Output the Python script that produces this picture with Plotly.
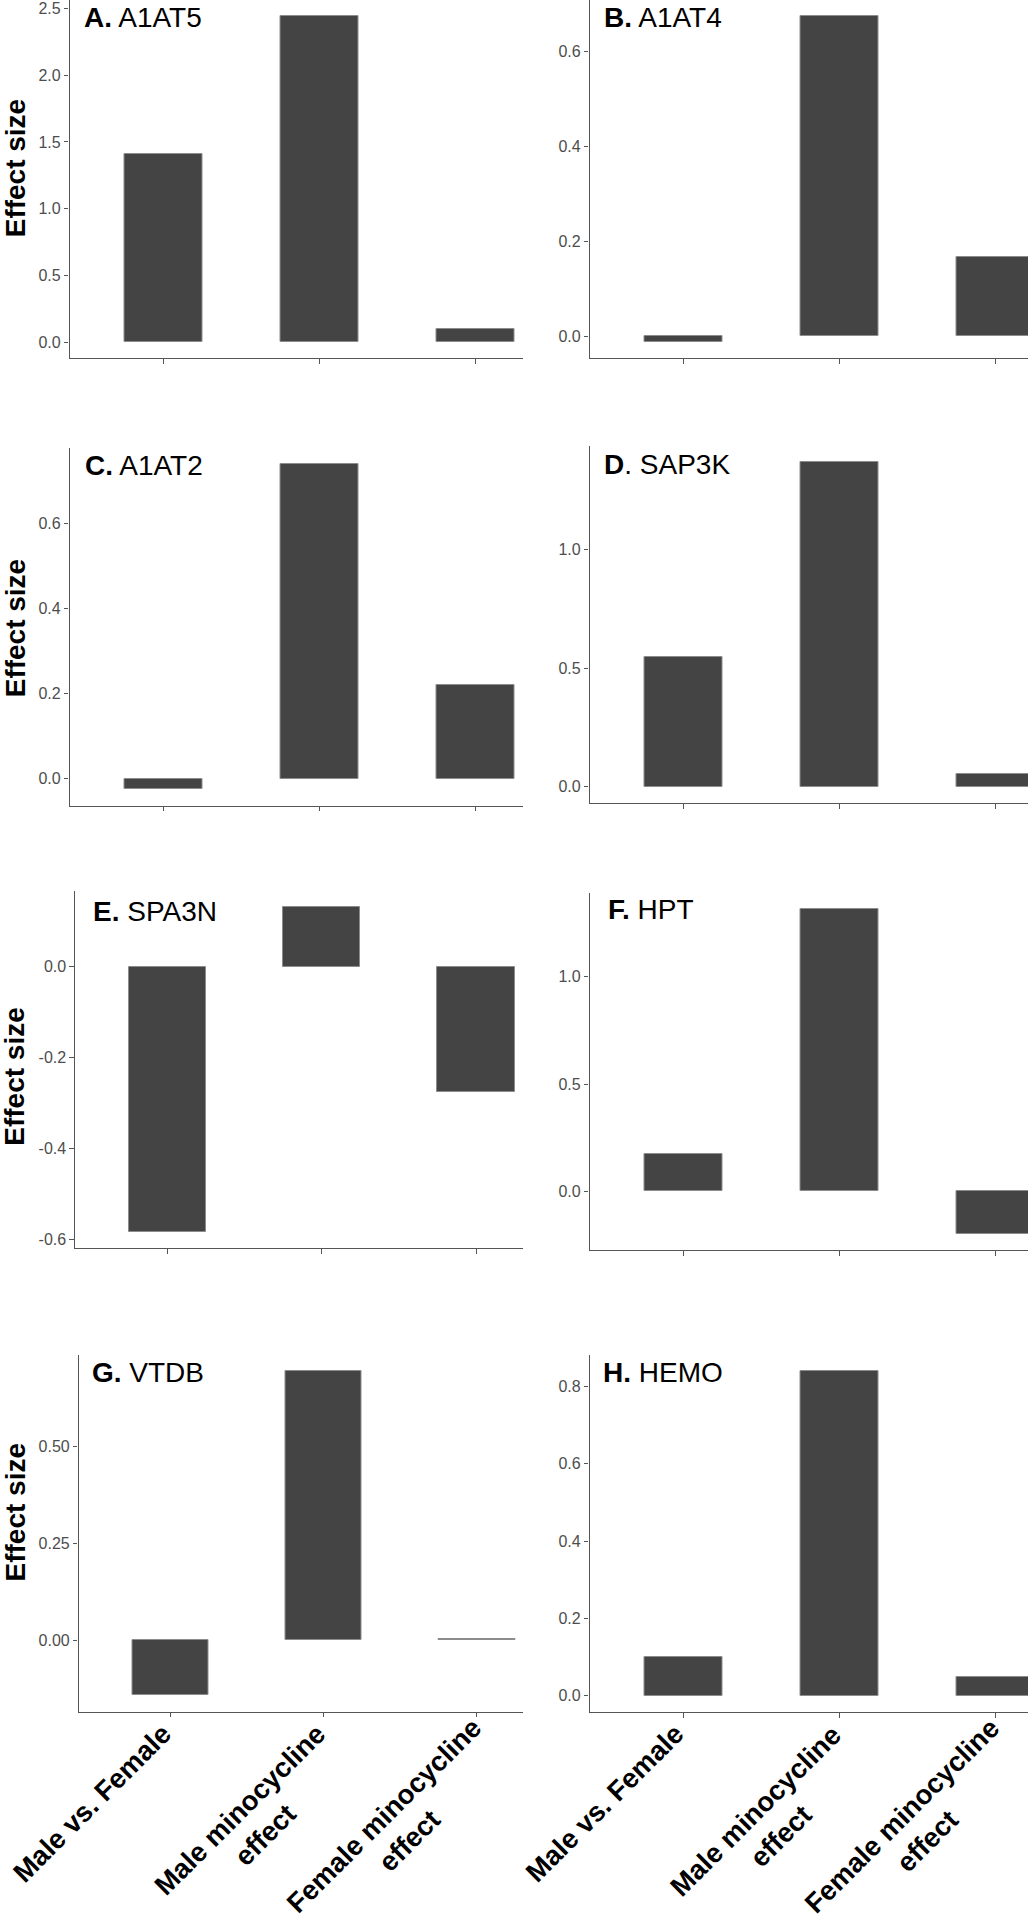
import plotly.graph_objects as go

# ---------------- data ----------------
categories = ["Male vs. Female", "Male minocycline<br>effect", "Female minocycline<br>effect"]
cat_pos = [1, 2, 3]

panel_titles = ["<b>A.</b> A1AT5", "<b>B.</b> A1AT4", "<b>C.</b> A1AT2", "<b>D</b>. SAP3K",
                "<b>E.</b> SPA3N", "<b>F.</b> HPT", "<b>G.</b> VTDB", "<b>H.</b> HEMO"]

a1at5 = [1.41, 2.4425, 0.10]
a1at4 = [-0.012, 0.675, 0.168]
a1at2 = [-0.025, 0.7395, 0.2196]
sap3k = [0.545, 1.368, 0.052]
spa3n = [-0.584, 0.131, -0.275]
hpt = [0.175, 1.315, -0.197]
vtdb = [-0.1426, 0.693, 0.002]
hemo = [0.1008, 0.839, 0.048]
panel_values = [a1at5, a1at4, a1at2, sap3k, spa3n, hpt, vtdb, hemo]

ticks_a = [0.0, 0.5, 1.0, 1.5, 2.0, 2.5]
ticks_b = [0.0, 0.2, 0.4, 0.6]
ticks_c = [0.0, 0.2, 0.4, 0.6]
ticks_d = [0.0, 0.5, 1.0]
ticks_e = [-0.6, -0.4, -0.2, 0.0]
ticks_f = [0.0, 0.5, 1.0]
ticks_g = [0.0, 0.25, 0.5]
ticks_h = [0.0, 0.2, 0.4, 0.6, 0.8]
panel_ticks = [ticks_a, ticks_b, ticks_c, ticks_d, ticks_e, ticks_f, ticks_g, ticks_h]
tick_decimals = [1, 1, 1, 1, 1, 1, 2, 1]

y_title = "Effect size"

# ---------------- layout geometry (pixels) ----------------
W, H = 1028, 1920
# (left, right_visible, top, bottom)
boxes = [
    (69.5, 523, 0, 358.3), (589.5, 1028, 0, 358.3),
    (69.5, 523, 448, 805.5), (589.5, 1028, 446, 803),
    (75, 523, 891, 1248), (589.5, 1028, 893, 1250),
    (78.5, 523, 1355, 1711.7), (589.5, 1028, 1355, 1712),
]
full_right = [568.6, 1088.7]
# (left x, centre y); None centre -> anchored to the top edge
title_pos = [(84, None), (604, None), (84.5, 465), (604, 464.5),
             (93, 911), (608, 909.3), (92, 1372.5), (603.3, 1372)]
ytitle_centers = [168.3, 628.3, 1076.7, 1512.5]
# offsets of x label centres from (tick, axis bottom)
xlab_shift = [(-79, -91.3), (-71, -111), (-80.5, -116.5)]

AX_COL = "#555555"
FONT = "Liberation Sans, Arial, sans-serif"
TICK_FONT = dict(family=FONT, size=16, color="#4d4d4d")
BAR_FILL = "#444444"
BAR_LINE = "#8c8c8c"

fig = go.Figure()
layout = {}
annotations = []

for i, vals in enumerate(panel_values):
    n = i + 1
    xa = "x" if n == 1 else f"x{n}"
    ya = "y" if n == 1 else f"y{n}"
    xkey = "xaxis" if n == 1 else f"xaxis{n}"
    ykey = "yaxis" if n == 1 else f"yaxis{n}"
    col = i % 2
    x0, x1, top, bot = boxes[i]

    fig.add_trace(go.Bar(
        x=cat_pos, y=vals, width=0.5,
        marker=dict(color=BAR_FILL, line=dict(color=BAR_LINE, width=1)),
        xaxis=xa, yaxis=ya, showlegend=False, hoverinfo="y",
    ))

    lo = min(0, min(vals))
    hi = max(0, max(vals))
    pad = 0.05 * (hi - lo)
    yr = [lo - pad, hi + pad]
    fr = full_right[col]
    xr_end = 0.4 + 3.2 * (x1 - x0) / (fr - x0)

    layout[xkey] = dict(
        domain=[x0 / W, x1 / W], range=[0.4, xr_end], anchor=ya,
        tickmode="array", tickvals=cat_pos, showticklabels=False,
        ticks="outside", ticklen=4.5, tickwidth=1, tickcolor=AX_COL,
        showline=True, linecolor=AX_COL, linewidth=1.2,
        showgrid=False, zeroline=False,
    )
    tv = panel_ticks[i]
    d = tick_decimals[i]
    layout[ykey] = dict(
        domain=[1 - bot / H, 1 - top / H], range=yr, anchor=xa,
        tickmode="array", tickvals=tv, ticktext=[f"{v:.{d}f}" for v in tv],
        ticks="outside", ticklen=4.5, tickwidth=1, tickcolor=AX_COL,
        tickfont=TICK_FONT,
        showline=True, linecolor=AX_COL, linewidth=1.2,
        showgrid=False, zeroline=False,
    )

    tx, ty = title_pos[i]
    if ty is None:
        ypos, yanc = 1.0, "top"
    else:
        ypos, yanc = 1 - ty / H, "middle"
    annotations.append(dict(
        text=panel_titles[i], xref="paper", yref="paper",
        x=(tx - 2) / W, y=ypos, xanchor="left", yanchor=yanc,
        showarrow=False,
        font=dict(family=FONT, size=28, color="black"),
    ))

    if col == 0:
        yc = ytitle_centers[i // 2]
        annotations.append(dict(
            text=f"<b>{y_title}</b>", xref="paper", yref="paper",
            x=15 / W, y=1 - yc / H, xanchor="center", yanchor="middle",
            textangle=-90, showarrow=False,
            font=dict(family=FONT, size=28, color="black"),
        ))

    if n in (7, 8):
        for k, cat in enumerate(categories):
            sx, sy = xlab_shift[k]
            annotations.append(dict(
                text=f"<b>{cat}</b>", xref=xa, yref="paper",
                x=cat_pos[k], y=1 - bot / H, xanchor="center", yanchor="middle",
                xshift=sx, yshift=sy, textangle=-45, align="center",
                showarrow=False,
                font=dict(family=FONT, size=27.5, color="black"),
            ))

fig.update_layout(
    width=W, height=H,
    margin=dict(l=0, r=0, t=0, b=0),
    paper_bgcolor="white", plot_bgcolor="white",
    annotations=annotations,
    bargap=0,
    **layout,
)

fig.write_html(
    "out.html",
    config={"displayModeBar": False},
    post_script="document.body.style.margin='0';document.body.style.padding='0';document.body.style.overflow='hidden';",
)
